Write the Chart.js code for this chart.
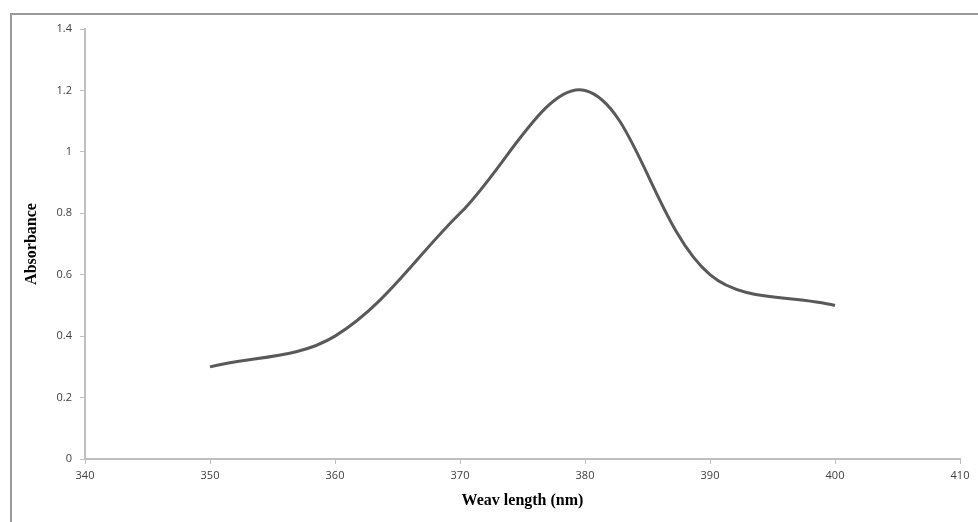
<!DOCTYPE html>
<html>
<head>
<meta charset="utf-8">
<script src="https://cdn.jsdelivr.net/npm/chart.js@4/dist/chart.umd.min.js"></script>
<style>
  html, body { margin: 0; padding: 0; background: #fff; }
  #wrap { position: relative; width: 978px; height: 522px; overflow: hidden; }
  #frame {
    position: absolute; left: 10px; top: 13px; width: 1000px; height: 600px;
    border-top: 2px solid #9a9a9a; border-left: 2px solid #9a9a9a;
  }
  canvas { position: absolute; left: 0; top: 0; }
</style>
</head>
<body>
<div id="wrap">
  <div id="frame"></div>
  <canvas id="chart" width="978" height="522"></canvas>
</div>
<script>
// ---------- data ----------
const wavelength = [350, 360, 370, 380, 390, 400];
const absorbance = [0.3, 0.4, 0.8, 1.2, 0.6, 0.5];
const xTicks = [340, 350, 360, 370, 380, 390, 400, 410];
const yTicks = [0, 0.2, 0.4, 0.6, 0.8, 1, 1.2, 1.4];

const AXIS = "#bfbfbf";
const TICK_TXT = "#404040";
const tickFont = { family: "'Open Sans', 'Liberation Sans', sans-serif", size: 11 };
const titleFont = { family: "'Liberation Serif', 'DejaVu Serif', serif", size: 16, weight: "bold" };

new Chart(document.getElementById("chart"), {
  type: "line",
  data: {
    datasets: [{
      data: wavelength.map((x, i) => ({ x, y: absorbance[i] })),
      borderColor: "#595959",
      borderWidth: 3,
      pointRadius: 0,
      tension: 0.35,
      fill: false,
    }],
  },
  options: {
    responsive: false,
    animation: false,
    layout: { padding: { top: 29, right: 18, bottom: 0, left: 0 } },
    plugins: { legend: { display: false }, tooltip: { enabled: false } },
    scales: {
      x: {
        type: "linear",
        min: xTicks[0], max: xTicks[xTicks.length - 1],
        afterBuildTicks: (s) => { s.ticks = xTicks.map((v) => ({ value: v })); },
        afterFit: (s) => { s.height = 63; },
        ticks: { color: TICK_TXT, font: tickFont, padding: 5, maxRotation: 0, callback: (v) => String(v) },
        grid: { drawOnChartArea: false, drawTicks: true, tickLength: 5, color: AXIS, lineWidth: 1 },
        border: { color: AXIS, width: 2 },
        title: { display: true, text: "Weav length (nm)", color: "#000", font: titleFont, padding: { top: 0, bottom: 12 } },
      },
      y: {
        min: yTicks[0], max: yTicks[yTicks.length - 1],
        afterBuildTicks: (s) => { s.ticks = yTicks.map((v) => ({ value: v })); },
        afterFit: (s) => { s.width = 85; },
        ticks: { color: TICK_TXT, font: tickFont, padding: 8, callback: (v) => String(v) },
        grid: { drawOnChartArea: false, drawTicks: true, tickLength: 5, color: AXIS, lineWidth: 1 },
        border: { color: AXIS, width: 2 },
        title: { display: true, text: "Absorbance", color: "#000", font: titleFont, padding: { top: 22, bottom: 0 } },
      },
    },
  },
});
</script>
</body>
</html>
